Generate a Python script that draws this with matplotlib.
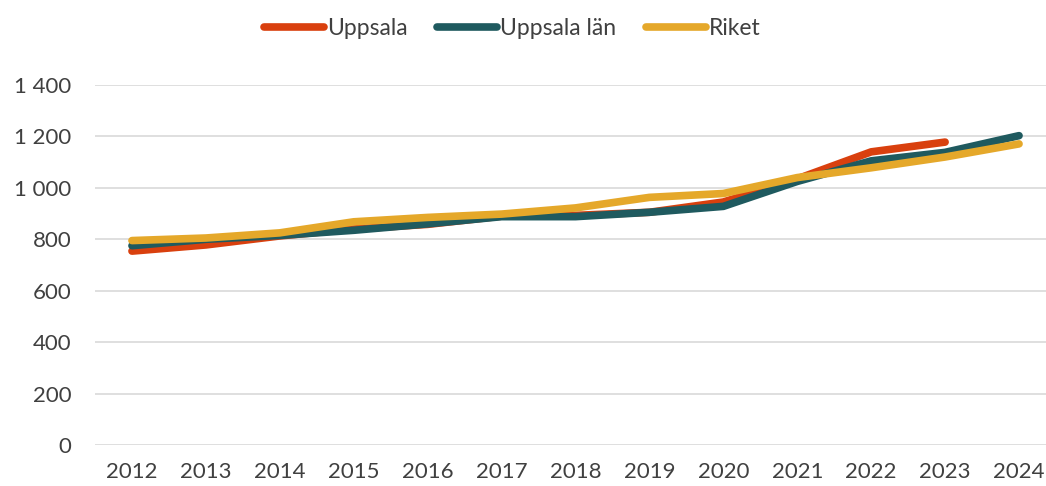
import matplotlib
matplotlib.use("Agg")
import matplotlib.pyplot as plt

years = [2012, 2013, 2014, 2015, 2016, 2017, 2018, 2019, 2020, 2021, 2022, 2023, 2024]
uppsala = [754, 778, 813, 840, 858, 890, 893, 905, 945, 1035, 1140, 1178]
uppsala_lan = [775, 800, 815, 835, 860, 888, 888, 905, 928, 1025, 1105, 1138, 1203]
riket = [795, 805, 825, 868, 885, 898, 922, 963, 978, 1040, 1078, 1120, 1171]

yticks = [0, 200, 400, 600, 800, 1000, 1200, 1400]
ytick_labels = ["0", "200", "400", "600", "800", "1 000", "1 200", "1 400"]

plt.rcParams['font.family'] = ['Lato', 'DejaVu Sans']
fig = plt.figure(figsize=(10.46, 4.86), dpi=100)
ax = fig.add_axes([95/1046, 1 - 445/486, 961/1046, 360/486])

lw = 5.5
ax.plot(years[:len(uppsala)], uppsala, color="#D9400E", lw=lw, solid_capstyle="round", label="Uppsala", zorder=3)
ax.plot(years, uppsala_lan, color="#1F5A5F", lw=lw, solid_capstyle="round", label="Uppsala län", zorder=4)
ax.plot(years, riket, color="#E5A82A", lw=lw, solid_capstyle="round", label="Riket", zorder=5)

ax.set_xlim(2011.5, 2024.5)
ax.set_ylim(0, 1400)
ax.set_yticks(yticks)
ax.set_yticklabels(ytick_labels)
ax.set_xticks(years)
ax.set_xticklabels([str(y) for y in years])
ax.grid(axis="y", color="#D9D9D9", lw=1.2)
ax.set_axisbelow(True)
for s in ax.spines.values():
    s.set_visible(False)
ax.tick_params(axis="x", length=0, labelsize=16, colors="#404040", pad=12)
ax.tick_params(axis="y", length=0, labelsize=16, colors="#404040", pad=17)

leg = fig.legend(loc="upper center", bbox_to_anchor=(0.49, 1.005), ncol=3, frameon=False,
                 fontsize=16.5, handlelength=2.6, handletextpad=0.15, columnspacing=1.3)
for t in leg.get_texts():
    t.set_color("#404040")

fig.savefig("out.png", dpi=100)
